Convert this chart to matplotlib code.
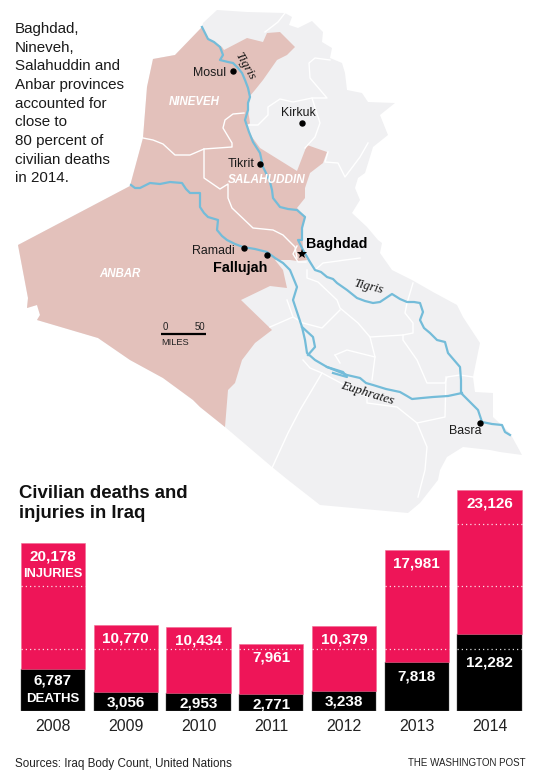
"""Iraq map and civilian deaths / injuries bars, map outlines traced in pixel coords."""
import numpy as np
import matplotlib
matplotlib.use("Agg")
import matplotlib.pyplot as plt
from matplotlib.patches import Polygon

W, H = 535, 781
plt.rcParams["font.family"] = ["Liberation Sans", "DejaVu Sans"]

years = ["2008", "2009", "2010", "2011", "2012", "2013", "2014"]
deaths = [6787, 3056, 2953, 2771, 3238, 7818, 12282]
injuries = [20178, 10770, 10434, 7961, 10379, 17981, 23126]
grid_levels = [10000, 20000, 30000]
deaths_label_drop = [11.5, 11, 11, 11, 11, 14, 28]

iraq = [(202,27),(203,23),(217,10),(247,12),(285,13),(292,17),(289,25),(298,28),(312,21),(323,32),
        (322,42),(332,48),(330,58),(342,63),(345,73),(347,90),(362,93),(368,102),(395,103),(380,115),
        (388,135),(373,147),(370,157),(365,173),(358,178),(355,188),(360,200),(352,213),(367,227),
        (378,240),(382,243),(380,253),(392,270),(412,280),(433,292),(457,305),(463,317),(480,343),
        (473,377),(475,392),(493,393),(493,417),(510,433),(522,455),(500,452),(490,450),(463,447),
        (447,457),(440,470),(438,480),(420,503),(408,513),(320,505),(288,480),(272,467),(225,427),
        (200,407),(193,400),(163,378),(130,360),(98,338),(37,320),(40,315),(37,305),(27,308),(28,298),
        (18,245),(130,186),(143,138),(147,87),(153,59),(175,55)]

provinces = [(202,27),(208,38),(222,47),(224,50),(247,38),(263,42),(267,33),(280,32),(295,47),(287,55),
             (277,60),(263,80),(255,90),(249,97),(248,110),(250,123),(247,127),(252,137),(260,148),
             (297,171),(307,145),(327,152),(323,163),(310,173),(305,188),(305,198),(297,208),(305,217),
             (302,230),(303,250),(307,260),(297,261),(290,260),(275,260),(283,270),(287,288),(270,286),
             (241,300),(272,330),(255,343),(242,360),(235,383),(228,390),(225,427),(200,407),(193,400),
             (163,378),(130,360),(98,338),(37,320),(40,315),(37,305),(27,308),(28,298),(18,245),(130,186),
             (143,138),(147,87),(153,59),(175,55)]

borders = [
    [(143,138),(153,140),(163,144),(175,155),(190,155),(204,149),(232,147),(232,143),(223,128),(225,120),(233,114),(244,113)],
    [(204,149),(204,178),(220,189),(228,184),(228,198),(232,208),(253,228),(273,230),(283,235),(295,247),(297,258)],
    [(247,125),(258,125),(268,115),(268,107),(280,99),(293,102),(312,98),(327,98),(310,78),(309,63),(315,58),(330,60)],
    [(312,98),(320,123),(315,137),(305,148)],
    [(285,13),(278,22),(265,32)],
    [(328,152),(325,162),(338,163),(345,177),(360,157),(368,143)],
    [(307,270),(307,278),(318,282),(337,300),(340,308),(358,323),(370,337),(403,335),(413,333),(413,323),(405,313),(407,303),(413,283)],
    [(315,270),(323,263),(360,258)],
    [(370,337),(375,357),(372,380)],
    [(403,335),(403,340),(417,360),(427,383),(445,383),(447,377),(460,375),(473,377)],
    [(335,355),(347,350),(375,357)],
    [(340,310),(322,328),(303,323),(293,317),(270,327)],
    [(287,300),(293,317)],
    [(303,360),(310,368),(322,373),(300,410),(288,433),(272,468)],
    [(322,373),(367,397),(367,403),(397,407),(417,423),(445,417),(446,377)],
    [(417,423),(427,447),(425,470),(418,497)],
    [(335,355),(340,363)],
    [(297,246),(293,254),(298,262),(306,262)],
]

tigris = [(202,27),(205,33),(208,39),(214,42),(220,47),(223,55),(220,60),(228,62),(233,63),(238,68),(242,73),
          (245,80),(248,88),(250,97),(248,103),(248,110),(245,120),(249,132),(253,142),(260,153),(263,167),
          (267,175),(270,182),(272,190),(273,198),(280,207),(288,209),(297,210),(305,217),(302,228),(302,240),
          (298,240),(303,250),(310,262),(315,270),(321,272),(327,277),(333,279),(337,283),(347,290),(352,294),
          (357,298),(365,301),(373,303),(380,302),(392,294),(400,299),(407,302),(414,302),(420,303),(423,312),
          (420,320),(424,328),(430,333),(437,340),(445,342),(448,353),(454,360),(460,367),(461,380),(461,393),
          (470,402),(478,410),(482,422),(492,424),(502,425),(505,432),(510,435)]
euphrates = [(131,185),(135,188),(140,188),(150,183),(160,184),(170,182),(182,183),(186,189),(190,193),(200,193),
             (200,207),(204,213),(208,217),(218,220),(217,230),(222,236),(227,240),(235,244),(243,247),(255,249),
             (267,252),(275,258),(283,263),(288,268),(290,270),(297,287),(293,300),(298,315),(302,327),(305,340),
             (307,353),(315,360),(327,367),(337,371),(347,375),(360,378),(366,383),(373,385),(386,389),(400,392),
             (407,396),(412,399),(422,398),(433,397),(448,396),(462,393)]
euphrates_branches = [[(302,327),(313,337),(315,347),(308,355)], [(327,367),(343,372),(347,377),(333,373)]]

cities = [("Mosul",233,71,"right",-7,2), ("Kirkuk",302,123,"center",-4,-10), ("Tikrit",260,164,"right",-5,0),
          ("Ramadi",244,248,"right",-9,3), ("Basra",480,423,"right",1,8)]
intro = ["Baghdad,", "Nineveh,", "Salahuddin and", "Anbar provinces", "accounted for",
         "close to", "80 percent of", "civilian deaths", "in 2014."]

fig = plt.figure(figsize=(W / 100, H / 100), dpi=100, facecolor="white")

ax = fig.add_axes([0, 0, 1, 1])
ax.set_xlim(0, W)
ax.set_ylim(H, 0)
ax.axis("off")

ax.add_patch(Polygon(iraq, closed=True, fc="#f0f0f2", ec="none", zorder=1))
ax.add_patch(Polygon(provinces, closed=True, fc="#e3c1bb", ec="none", zorder=2))
for b in borders:
    xs, ys = zip(*b)
    ax.plot(xs, ys, color="white", lw=1.0, zorder=3, solid_joinstyle="round")
for r in [tigris, euphrates] + euphrates_branches:
    xs, ys = zip(*r)
    ax.plot(xs, ys, color="#74bcd9", lw=1.6, zorder=4, solid_joinstyle="round")

for i, line in enumerate(intro):
    ax.text(15, 29 + i * 18.65, line, fontsize=10.9, color="#1a1a1a", ha="left", va="center", zorder=6)

for name, x, y, ha, dx, dy in cities:
    ax.plot(x, y, "o", color="black", ms=3.6, zorder=5)
    ax.text(x + dx, y + dy, name, fontsize=8.9, color="#1a1a1a", ha=ha, va="center", zorder=6)
ax.plot(267, 255, "o", color="black", ms=3.6, zorder=5)
ax.plot(302, 253.5, "*", color="black", ms=7.5, mew=0, zorder=5)
ax.text(306, 244, "Baghdad", fontsize=10.3, fontweight="bold", color="black", va="center", zorder=6)
ax.text(213, 268, "Fallujah", fontsize=10.4, fontweight="bold", color="black", va="center", zorder=6)

for name, x, y, size in [("NINEVEH", 194, 102, 8.3), ("SALAHUDDIN", 266.5, 180, 8.5), ("ANBAR", 120, 274, 8.3)]:
    ax.text(x, y, name, fontsize=size, fontweight="bold", style="italic", color="white", ha="center", va="center", zorder=6)

ax.text(245, 66, "Tigris", family="Liberation Serif", style="italic", fontsize=9.3, rotation=-60, color="#111111",
        ha="center", va="center", zorder=6)
ax.text(368, 287, "Tigris", family="Liberation Serif", style="italic", fontsize=9.3, rotation=-14, color="#111111",
        ha="center", va="center", zorder=6)
ax.text(367, 393, "Euphrates", family="Liberation Serif", style="italic", fontsize=9.6, rotation=-17, color="#111111",
        ha="center", va="center", zorder=6)

ax.plot([161, 206], [334, 334], color="black", lw=1.6, zorder=5, solid_capstyle="butt")
ax.text(165, 326.5, "0", fontsize=6.9, color="#222222", ha="center", va="center", zorder=6)
ax.text(200, 326.5, "50", fontsize=6.9, color="#222222", ha="center", va="center", zorder=6)
ax.text(161, 342.5, "MILES", fontsize=6.7, color="#222222", ha="left", va="center", zorder=6)

ax.text(19, 493.5, "Civilian deaths and", fontsize=13.4, fontweight="bold", color="#111111", va="center", zorder=6)
ax.text(19, 514, "injuries in Iraq", fontsize=13.4, fontweight="bold", color="#111111", va="center", zorder=6)
ax.text(15, 763.5, "Sources: Iraq Body Count, United Nations", fontsize=8.35, color="#222222", va="center", zorder=6)
ax.text(525, 763, "THE WASHINGTON POST", fontsize=7.05, color="#222222", ha="right", va="center", zorder=6)

# bar chart: 6.24 px per 1000, baseline at y=711 px
bar_left, bar_right, base_px, top_px = 16.6, 525.9, 711, 480
bx = fig.add_axes([bar_left / W, (H - base_px) / H, (bar_right - bar_left) / W, (base_px - top_px) / H])
bx.patch.set_alpha(0)
x = np.arange(len(years))
deaths = np.array(deaths)
injuries = np.array(injuries)
totals = deaths + injuries
bar_w = 0.885
bx.bar(x, deaths, bar_w, color="black", edgecolor="#555555", lw=0.3)
bx.bar(x, injuries, bar_w, bottom=deaths, color="#ee1558", edgecolor="#f26a92", lw=0.4)
bx.set_xlim(-0.5, len(years) - 0.5)
bx.set_ylim(0, (base_px - top_px) / 6.24 * 1000)
bx.set_xticks(x, years)
bx.set_yticks([])
bx.tick_params(axis="x", length=0, pad=6, labelsize=11.4, labelcolor="#222222")
for s in bx.spines.values():
    s.set_visible(False)

for lev in grid_levels:
    mask = totals > lev
    bx.hlines([lev] * mask.sum(), x[mask] - bar_w / 2, x[mask] + bar_w / 2, color="#ffffff", lw=0.9,
              linestyles=(0, (1, 2.4)), alpha=0.85)

for i in x:
    bx.annotate(f"{injuries[i]:,}", (i, totals[i]), xytext=(0, -13.5 * 0.72), textcoords="offset points",
                ha="center", va="center", color="white", fontsize=11, fontweight="bold")
    bx.annotate(f"{deaths[i]:,}", (i, deaths[i]), xytext=(0, -deaths_label_drop[i] * 0.72), textcoords="offset points",
                ha="center", va="center", color="white", fontsize=11, fontweight="bold")
bx.annotate("INJURIES", (0, totals[0]), xytext=(0, -31 * 0.72), textcoords="offset points",
            ha="center", va="center", color="white", fontsize=9.3, fontweight="bold")
bx.annotate("DEATHS", (0, deaths[0]), xytext=(0, -30 * 0.72), textcoords="offset points",
            ha="center", va="center", color="white", fontsize=9.5, fontweight="bold")

fig.savefig("out.png", dpi=100)
